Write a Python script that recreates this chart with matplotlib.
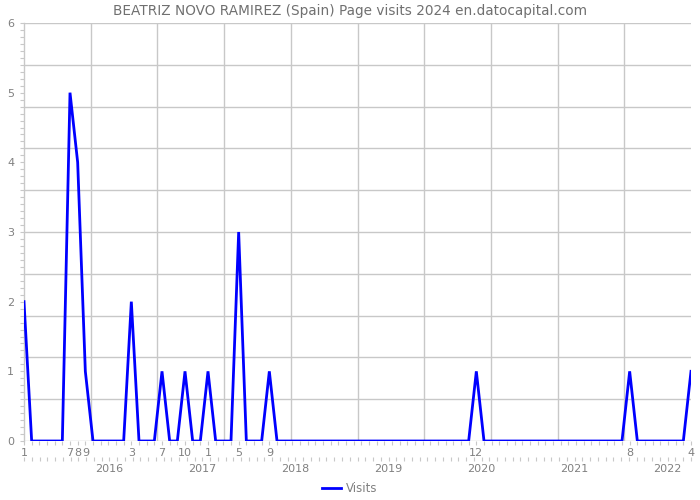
import numpy as np
import matplotlib
matplotlib.use("Agg")
import matplotlib.pyplot as plt
from matplotlib.lines import Line2D

plt.rcParams['font.family'] = ['DejaVu Sans']

title = "BEATRIZ NOVO RAMIREZ (Spain) Page visits 2024 en.datocapital.com"
start_year = 2015
visits_2015 = [2, 0, 0, 0, 0, 0, 5, 4, 1, 0, 0, 0]
visits_2016 = [0, 0, 2, 0, 0, 0, 1, 0, 0, 1, 0, 0]
visits_2017 = [1, 0, 0, 0, 3, 0, 0, 0, 1, 0, 0, 0]
visits_2018 = [0, 0, 0, 0, 0, 0, 0, 0, 0, 0, 0, 0]
visits_2019 = [0, 0, 0, 0, 0, 0, 0, 0, 0, 0, 0, 1]
visits_2020 = [0, 0, 0, 0, 0, 0, 0, 0, 0, 0, 0, 0]
visits_2021 = [0, 0, 0, 0, 0, 0, 0, 1, 0, 0, 0, 0]
visits_2022 = [0, 0, 0, 1]
year_labels = ["2016", "2017", "2018", "2019", "2020", "2021", "2022"]
y_labels = ["0", "1", "2", "3", "4", "5", "6"]

visits = (visits_2015 + visits_2016 + visits_2017 + visits_2018 +
          visits_2019 + visits_2020 + visits_2021 + visits_2022)
n = len(visits)
idx = np.arange(n)
month_num = [(i % 12) + 1 for i in idx]

GRAY = "#c8c8c8"
TXT = "#808080"
BLUE = "#0000ff"

fig = plt.figure(figsize=(7, 5), dpi=100)
ax = fig.add_axes([24/700, 1-441/500, (691-24)/700, (441-23)/500])
ax.set_xlim(0, n-1)
ax.set_ylim(0, 6)

# grid
for k in range(0, 11):
    ax.axhline(k*0.6, color=GRAY, lw=1, zorder=1)
for k in range(1, 10):
    ax.axvline(k*(n-1)/10, color=GRAY, lw=1, zorder=1)

ax.plot(idx, visits, color=BLUE, lw=2, zorder=3, solid_joinstyle='miter')

for s in ['top', 'right', 'bottom']:
    ax.spines[s].set_visible(False)
ax.spines['left'].set_color(GRAY)
ax.spines['left'].set_linewidth(1)

# y ticks
ax.set_yticks(range(7))
ax.set_yticklabels(y_labels)
ax.set_yticks(np.arange(0, 6.001, 0.1), minor=True)
ax.tick_params(axis='y', which='both', direction='out', length=3, width=0.8,
               color=GRAY, labelcolor=TXT, labelsize=8, pad=4)

# x ticks: months with visits
lab_pos = [i for i in idx if visits[i] > 0]
ax.set_xticks(lab_pos)
ax.set_xticklabels([str(month_num[i]) for i in lab_pos])
ax.set_xticks(idx, minor=True)
ax.tick_params(axis='x', which='both', direction='out', length=3, width=0.8,
               color=GRAY, labelcolor=TXT, labelsize=8, pad=2)

# year axis
ax2 = ax.twiny()
ax2.set_xlim(1, n-1)
ax2.xaxis.set_ticks_position('bottom')
ax2.xaxis.set_label_position('bottom')
ax2.spines['bottom'].set_position(('outward', 11.5))
for s in ax2.spines.values():
    s.set_visible(False)
ax2.set_xticks([12*(k+1) for k in range(len(year_labels))])
ax2.set_xticklabels(year_labels)
ax2.set_xticks(np.arange(1, n), minor=True)
ax2.tick_params(axis='x', which='both', direction='out', length=3, width=0.8,
                color=GRAY, labelcolor=TXT, labelsize=8, pad=2)

fig.text(0.5, 1-11/500, title, ha='center', va='center', color="#707070", fontsize=9.8)

handle = Line2D([], [], color=BLUE, lw=2)
fig.legend([handle], ["Visits"], loc='center', bbox_to_anchor=(0.5, 1-489/500),
           frameon=False, fontsize=8.5, labelcolor=TXT, handlelength=1.6,
           handletextpad=0.4)

fig.savefig("out.png", dpi=100)
